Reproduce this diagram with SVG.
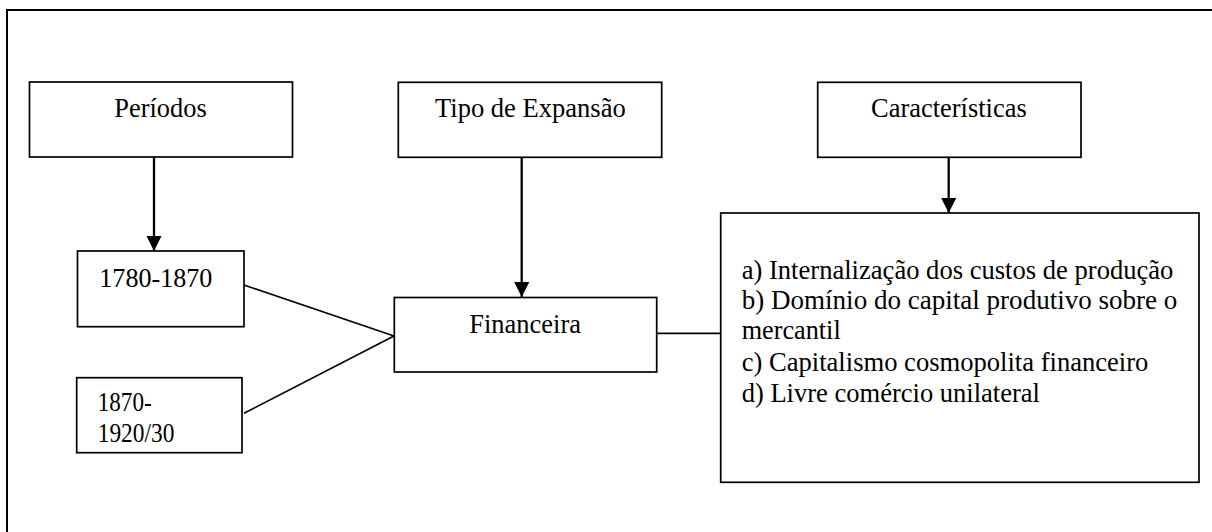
<svg xmlns="http://www.w3.org/2000/svg" width="1212" height="532" viewBox="0 0 1212 532">
<style>
.box{fill:#fff;stroke:#000;stroke-width:1.7}
.t{font-family:"Liberation Serif","DejaVu Serif",serif;font-size:26.5px;fill:#000}
.c{text-anchor:middle}
.ln{stroke:#000;stroke-width:1.7;fill:none}
.ar{stroke:#000;stroke-width:2.3;fill:none}
</style>
<defs>
<marker id="ah" markerUnits="userSpaceOnUse" markerWidth="16" markerHeight="16" refX="15" refY="7.5" orient="auto">
<path d="M0,0 L15,7.5 L0,15 Z" fill="#000"/>
</marker>
</defs>
<rect width="1212" height="532" fill="#fff"/>
<rect x="7" y="10" width="1230" height="560" fill="none" stroke="#000" stroke-width="2"/>
<g id="connectors">
<line class="ar" x1="154" y1="157" x2="154" y2="251" marker-end="url(#ah)"/>
<line class="ar" x1="521.7" y1="157" x2="521.7" y2="297" marker-end="url(#ah)"/>
<line class="ar" x1="948.7" y1="157" x2="948.7" y2="213" marker-end="url(#ah)"/>
<line class="ln" x1="244" y1="285" x2="394" y2="336"/>
<line class="ln" x1="244" y1="413.3" x2="394" y2="336"/>
<line class="ln" x1="656.7" y1="333.3" x2="720.7" y2="333.3"/>
</g>
<g id="periodos">
<rect class="box" x="29.5" y="82" width="263" height="75"/>
<text class="t" font-family="Liberation Serif, DejaVu Serif, serif" x="114.3" y="117.3" textLength="92.4" lengthAdjust="spacingAndGlyphs">Períodos</text>
</g>
<g id="tipo">
<rect class="box" x="398.3" y="82.3" width="263.4" height="75"/>
<text class="t" font-family="Liberation Serif, DejaVu Serif, serif" x="435" y="117.3" textLength="190.7" lengthAdjust="spacingAndGlyphs">Tipo de Expansão</text>
</g>
<g id="caracteristicas">
<rect class="box" x="817.7" y="82.3" width="263.3" height="75"/>
<text class="t" font-family="Liberation Serif, DejaVu Serif, serif" x="871" y="117.3" textLength="155.7" lengthAdjust="spacingAndGlyphs">Características</text>
</g>
<g id="p1780">
<rect class="box" x="77.5" y="251" width="166.5" height="75.7"/>
<text class="t" font-family="Liberation Serif, DejaVu Serif, serif" x="99.3" y="286.7" textLength="113" lengthAdjust="spacingAndGlyphs">1780-1870</text>
</g>
<g id="p1870">
<rect class="box" x="76.7" y="377.7" width="165.3" height="75"/>
<text class="t" font-family="Liberation Serif, DejaVu Serif, serif" x="97.7" y="410.7" textLength="54" lengthAdjust="spacingAndGlyphs">1870-</text>
<text class="t" font-family="Liberation Serif, DejaVu Serif, serif" x="97.7" y="441.7" textLength="76.7" lengthAdjust="spacingAndGlyphs">1920/30</text>
</g>
<g id="financeira">
<rect class="box" x="394.3" y="297.5" width="262.4" height="74.5"/>
<text class="t" font-family="Liberation Serif, DejaVu Serif, serif" x="469.3" y="332.7" textLength="111.7" lengthAdjust="spacingAndGlyphs">Financeira</text>
</g>
<g id="lista">
<rect class="box" x="720.7" y="213" width="478.3" height="269.3"/>
<text class="t" font-family="Liberation Serif, DejaVu Serif, serif" x="741.7" y="279" textLength="431.7" lengthAdjust="spacingAndGlyphs">a) Internalização dos custos de produção</text>
<text class="t" font-family="Liberation Serif, DejaVu Serif, serif" x="741.7" y="309" textLength="435.7" lengthAdjust="spacingAndGlyphs">b) Domínio do capital produtivo sobre o</text>
<text class="t" font-family="Liberation Serif, DejaVu Serif, serif" x="741.7" y="338.5" textLength="99" lengthAdjust="spacingAndGlyphs">mercantil</text>
<text class="t" font-family="Liberation Serif, DejaVu Serif, serif" x="741.7" y="371" textLength="406.7" lengthAdjust="spacingAndGlyphs">c) Capitalismo cosmopolita financeiro</text>
<text class="t" font-family="Liberation Serif, DejaVu Serif, serif" x="741.7" y="401.5" textLength="298.3" lengthAdjust="spacingAndGlyphs">d) Livre comércio unilateral</text>
</g>
</svg>
